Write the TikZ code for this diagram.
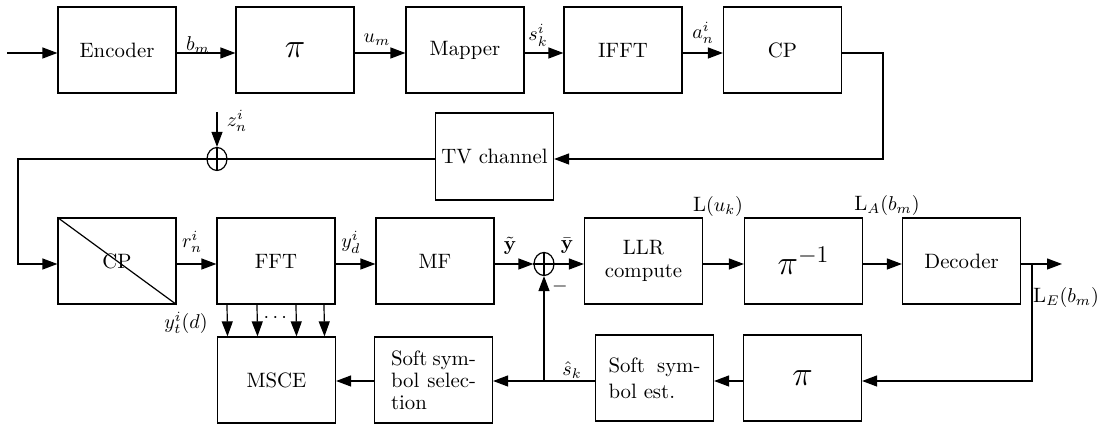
\documentclass[tikz,border=0pt]{standalone}
\usepackage{amsmath}
\usetikzlibrary{arrows.meta,shapes.geometric}
\begin{document}
\begin{tikzpicture}[x=0.5pt,y=-0.5pt,
  blk/.style={draw,line width=0.6pt,minimum width=59pt,minimum height=43pt,inner sep=0pt,font=\fontsize{10.4}{12.5}\selectfont},
  lbl/.style={inner sep=0pt,font=\fontsize{10.4}{12.5}\selectfont},
  con/.style={line width=0.6pt},
  arr/.style={con,-{Triangle[length=7.5pt,width=5.5pt]}},
  sumnode/.style={draw,ellipse,line width=0.6pt,minimum width=10pt,minimum height=11.5pt,inner sep=0pt}]
\useasboundingbox (0,0) rectangle (1104,431);
% top row
\node[blk] (enc) at (117,50) {Encoder};
\node[blk] (pi1) at (295,50) {\LARGE$\pi$};
\node[blk] (map) at (465,50) {Mapper};
\node[blk] (ifft) at (623,50) {IFFT};
\node[blk] (cp1) at (782.5,50) {CP};
% channel
\node[blk,minimum height=43.5pt] (tv) at (494.5,156.5) {TV channel};
\node[sumnode] (s1) at (217,159) {};
% second row
\node[blk] (cp2) at (117,261) {CP};
\node[blk] (fft) at (276,261) {FFT};
\node[blk] (mf) at (435,261) {MF};
\node[sumnode] (s2) at (544,264) {};
\node[blk,align=center,font=\fontsize{10.4}{11.5}\selectfont] (llr) at (643.5,261) {LLR\\compute};
\node[blk] (pinv) at (803.5,261) {\LARGE$\pi^{-1}$};
\node[blk] (dec) at (961.5,261) {Decoder};
% third row
\node[blk] (msce) at (276.5,380) {MSCE};
\node[blk] (sss) at (433.5,380) {\fontsize{10.4}{11}\selectfont\parbox{42.5pt}{Soft\hfill sym-\\bol\hfill selec-\\tion}};
\node[blk] (sse) at (654.5,378) {\fontsize{10.4}{13}\selectfont\parbox{46pt}{Soft\hfill sym-\\bol est.}};
\node[blk] (pi2) at (802.5,378) {\LARGE$\pi$};
% coordinates
\coordinate (in) at (7,53);
\coordinate (c1) at (883,53);
\coordinate (c2) at (883,159);
\coordinate (c3) at (18,159);
\coordinate (c4) at (18,264);
\coordinate (z) at (217,112);
\coordinate (out) at (1062,264);
\coordinate (br) at (1032,264);
\coordinate (br2) at (1032,381);
\coordinate (fb) at (544,381);
% top connectors
\draw[arr] (in) -- ([yshift=-1.5pt]enc.west);
\draw[arr] ([yshift=-1.5pt]enc.east) -- ([yshift=-1.5pt]pi1.west);
\draw[arr] ([yshift=-1.5pt]pi1.east) -- ([yshift=-1.5pt]map.west);
\draw[arr] ([yshift=-1.5pt]map.east) -- ([yshift=-1.5pt]ifft.west);
\draw[arr] ([yshift=-1.5pt]ifft.east) -- ([yshift=-1.5pt]cp1.west);
\draw[arr] ([yshift=-1.5pt]cp1.east) -- (c1) -- (c2) -- (tv.east |- c2);
\draw[arr] (tv.west |- c3) -- (c3) -- (c4) -- (cp2.west |- c4);
\draw[con] (s1.north) -- (s1.south);
\draw[arr] (z) -- (s1.north);
% second row connectors
\draw[con] (cp2.north west) -- (cp2.south east);
\draw[arr] (cp2.east |- c4) -- (fft.west |- c4);
\draw[arr] (fft.east |- c4) -- (mf.west |- c4);
\draw[arr] (mf.east |- c4) -- (s2.west);
\draw[con] (s2.west) -- (s2.east);
\draw[con] (s2.north) -- (s2.south);
\draw[arr] (s2.east) -- (llr.west |- c4);
\draw[arr] (llr.east |- c4) -- (pinv.west |- c4);
\draw[arr] (pinv.east |- c4) -- (dec.west |- c4);
\draw[arr] (dec.east |- c4) -- (out);
% feedback
\draw[arr] (br) -- (br2) -- (pi2.east |- br2);
\draw[arr] (pi2.west |- br2) -- (sse.east |- br2);
\draw[arr] (sse.west |- br2) -- (sss.east |- br2);
\draw[arr] (sss.west |- br2) -- (msce.east |- br2);
\draw[arr] (fb) -- (s2.south);
\foreach \d in {-24.5,-9.5,10,24}
  \draw[arr] ([xshift=\d pt]fft.south) -- ([xshift=\d pt]msce.north);
% labels
\node[lbl] (lbm) at (198,45) {$b_m$};
\node[lbl] (lum) at (377,40) {$u_m$};
\node[lbl] (lsk) at (538,35) {$s_k^i$};
\node[lbl] (lan) at (703,33) {$a_n^i$};
\node[lbl] (lzn) at (237,121) {$z_n^i$};
\node[lbl] (lrn) at (192,242) {$r_n^i$};
\node[lbl] (lyd) at (351,242) {$y_d^i$};
\node[lbl] (lyt) at (510,246) {$\tilde{\mathbf{y}}$};
\node[lbl] (lyb) at (567,246) {$\bar{\mathbf{y}}$};
\node[lbl] (lmin) at (560,287) {$-$};
\node[lbl] (luk) at (718,207) {L$(u_k)$};
\node[lbl] (lla) at (887,206) {L$_A(b_m)$};
\node[lbl] (lle) at (1066,298) {L$_E(b_m)$};
\node[lbl] (lsh) at (572,370) {$\hat{s}_k$};
\node[lbl,anchor=east] (lytd) at (208,323) {$y_t^i(d)$};
\node[lbl] (ldots) at (277,318) {$\cdots$};
\end{tikzpicture}
\end{document}
